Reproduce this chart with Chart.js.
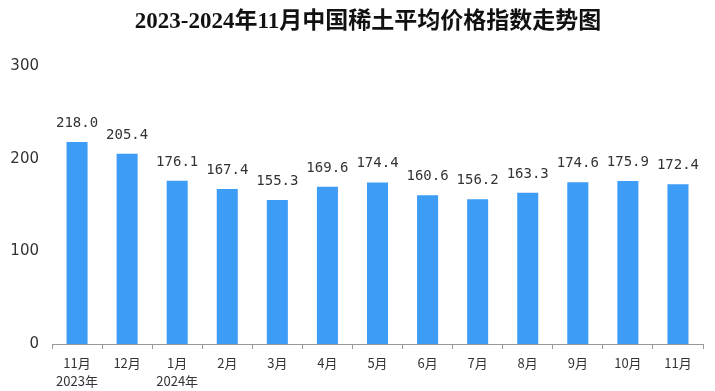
<!DOCTYPE html>
<html>
<head>
<meta charset="utf-8">
<script src="https://cdn.jsdelivr.net/npm/chart.js@4/dist/chart.umd.min.js"></script>
<style>
html,body{margin:0;padding:0;background:#fff;}
#wrap{width:715px;height:391px;}
</style>
</head>
<body>
<div id="wrap"><canvas id="c" width="715" height="391"></canvas></div>
<script>
const categories = [["11月","2023年"],"12月",["1月","2024年"],"2月","3月","4月","5月","6月","7月","8月","9月","10月","11月"];
const priceIndex = [218.0,205.4,176.1,167.4,155.3,169.6,174.4,160.6,156.2,163.3,174.6,175.9,172.4];
const yTicks = [0,100,200,300];
const titleText = "2023-2024年11月中国稀土平均价格指数走势图";

const valueLabels = {
  id: 'valueLabels',
  afterDatasetsDraw(chart) {
    const ctx = chart.ctx;
    const meta = chart.getDatasetMeta(0);
    ctx.save();
    ctx.font = '14px "DejaVu Sans Mono", "Liberation Mono", monospace';
    ctx.fillStyle = '#333';
    ctx.textAlign = 'center';
    ctx.textBaseline = 'alphabetic';
    meta.data.forEach((bar, i) => {
      ctx.fillText(priceIndex[i].toFixed(1), bar.x, bar.y - 15);
    });
    // title
    ctx.font = 'bold 23px "Liberation Serif", "Noto Sans CJK SC", serif';
    ctx.fillStyle = '#111';
    ctx.textBaseline = 'middle';
    ctx.fillText(titleText, 368, 22);
    ctx.restore();
  }
};

new Chart(document.getElementById('c'), {
  type: 'bar',
  data: {
    labels: categories,
    datasets: [{
      data: priceIndex,
      backgroundColor: '#3d9cf5',
      borderWidth: 0,
      categoryPercentage: 1,
      barPercentage: 0.42
    }]
  },
  options: {
    responsive: false,
    animation: false,
    layout: { padding: { left: 0, right: 12, top: 66, bottom: 0 } },
    plugins: {
      legend: { display: false },
      tooltip: { enabled: false },
      title: { display: false }
    },
    scales: {
      x: {
        grid: { display: true, drawOnChartArea: false, tickLength: 5, color: '#999', offset: true },
        border: { display: true, color: '#999', width: 1 },
        ticks: {
          color: '#333',
          font: { family: '"Noto Sans CJK SC", sans-serif', size: 13, lineHeight: 1.4 },
          padding: 5,
          maxRotation: 0,
          autoSkip: false
        },
        afterFit(scale) { scale.height = 47; }
      },
      y: {
        min: 0, max: 300,
        afterBuildTicks(scale) { scale.ticks = yTicks.map(v => ({ value: v })); },
        grid: { display: false },
        border: { display: false },
        ticks: {
          color: '#333',
          font: { family: '"DejaVu Sans", sans-serif', size: 15 },
          padding: 5
        },
        afterFit(scale) { scale.width = 52; }
      }
    }
  },
  plugins: [valueLabels]
});
</script>
</body>
</html>
